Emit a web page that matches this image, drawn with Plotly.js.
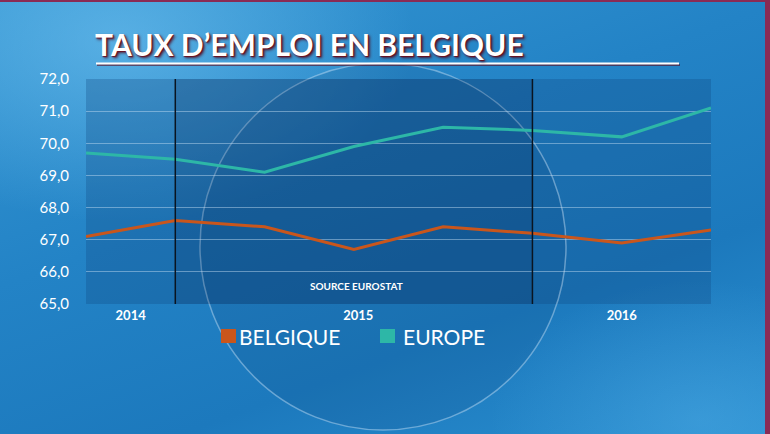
<!DOCTYPE html>
<html>
<head>
<meta charset="utf-8">
<script src="https://cdn.plot.ly/plotly-3.0.1.min.js"></script>
<style>
html,body{margin:0;padding:0;width:770px;height:434px;overflow:hidden;}
body{
 background:
  radial-gradient(ellipse 420px 260px at 120px 40px, rgba(120,200,245,0.55), rgba(120,200,245,0) 70%),
  radial-gradient(ellipse 300px 200px at 700px 420px, rgba(90,180,235,0.35), rgba(90,180,235,0) 70%),
  linear-gradient(160deg, #3596d2 0%, #2383c6 40%, #1c79bd 70%, #2a8fd0 100%);
 box-shadow: inset -5px 0 0 #8a2b55, inset 0 2px 0 #8a2b55;
}
#chart{width:770px;height:434px;}
</style>
</head>
<body>
<div id="chart"></div>
<script>
// Data
const quarterIndex = [0, 1, 2, 3, 4, 5, 6, 7];
const belgique = [67.1, 67.6, 67.4, 66.7, 67.4, 67.2, 66.9, 67.3];
const europe   = [69.7, 69.5, 69.1, 69.9, 70.5, 70.4, 70.2, 71.1];
const seriesNames = ['BELGIQUE', 'EUROPE'];
const yearLabels = ['2014', '2015', '2016'];
const yTicks = [65, 66, 67, 68, 69, 70, 71, 72];

// Layout constants
const yearTickPos = [0.5, 3.05, 6.0];
const colBel = '#c9561c';
const colEur = '#2db7a7';
const colors = [colBel, colEur];

const traces = [
  {x: quarterIndex, y: europe, mode: 'lines', name: seriesNames[1], line: {color: colEur, width: 3}, hoverinfo: 'skip'},
  {x: quarterIndex, y: belgique, mode: 'lines', name: seriesNames[0], line: {color: colBel, width: 3}, hoverinfo: 'skip'}
];

const px = v => (v - 86) / 625;
const py = v => (304 - v) / 225;

// custom legend (square swatch + label)
const legendSwatchX = [221, 380];
const legendTextX = [237, 401];
const legendY = 336;
const legendShapes = [];
const legendAnn = [];
seriesNames.forEach((n, i) => {
  legendShapes.push({type: 'rect', xref: 'paper', yref: 'paper',
    x0: px(legendSwatchX[i]), x1: px(legendSwatchX[i] + 15), y0: py(legendY + 7), y1: py(legendY - 7),
    line: {width: 0}, fillcolor: colors[i]});
  legendAnn.push({text: n, xref: 'paper', yref: 'paper', x: px(legendTextX[i]), y: py(legendY),
    xanchor: 'left', yanchor: 'middle', showarrow: false,
    font: {size: 21, color: '#ffffff', family: 'Lato, sans-serif'}});
});

const layout = {
  width: 770, height: 434,
  margin: {l: 86, r: 59, t: 79, b: 130},
  paper_bgcolor: 'rgba(0,0,0,0)',
  plot_bgcolor: 'rgba(15,70,125,0.28)',
  showlegend: false,
  font: {family: 'Lato, "Open Sans", sans-serif', color: '#ffffff'},
  title: {
    text: 'TAUX D\u2019EMPLOI EN BELGIQUE',
    x: px(95), xref: 'paper', xanchor: 'left',
    y: 1 - 45/434, yref: 'container', yanchor: 'middle',
    font: {family: 'Lato, sans-serif', size: 30, color: '#ffffff', weight: 700, shadow: '1px 1px 1px #6a1020, 2px 2px 3px rgba(80,0,20,0.8)'}
  },
  xaxis: {
    range: [0, 7], tickmode: 'array', tickvals: yearTickPos, ticktext: yearLabels,
    showgrid: false, zeroline: false, showline: false, ticks: '',
    tickfont: {size: 13, color: '#ffffff', weight: 700}, ticklabelstandoff: 2, fixedrange: true
  },
  yaxis: {
    range: [65, 72], tickmode: 'array', tickvals: yTicks,
    ticktext: yTicks.map(v => v.toFixed(1).replace('.', ',')),
    showgrid: true, gridcolor: 'rgba(200,225,245,0.45)', gridwidth: 1,
    zeroline: false, showline: false, ticks: '',
    tickfont: {size: 15, color: '#ffffff'}, ticklabelstandoff: 16, fixedrange: true
  },
  shapes: [
    {type: 'circle', xref: 'paper', yref: 'paper', x0: px(200), x1: px(566), y0: py(430), y1: py(63),
     line: {color: 'rgba(225,240,255,0.4)', width: 1.5}, fillcolor: 'rgba(10,50,100,0.12)', layer: 'below'},
    {type: 'rect', xref: 'x', yref: 'paper', x0: 1, x1: 5, y0: 0, y1: 1,
     line: {width: 0}, fillcolor: 'rgba(5,35,75,0.18)', layer: 'below'},
    {type: 'line', xref: 'x', yref: 'paper', x0: 1, x1: 1, y0: 0, y1: 1, line: {color: '#0a1420', width: 1.5}},
    {type: 'line', xref: 'x', yref: 'paper', x0: 5, x1: 5, y0: 0, y1: 1, line: {color: '#0a1420', width: 1.5}},
    {type: 'line', xref: 'paper', yref: 'paper', x0: px(97), x1: px(680), y0: py(65), y1: py(65),
     line: {color: 'rgba(90,10,30,0.6)', width: 2}},
    {type: 'line', xref: 'paper', yref: 'paper', x0: px(96), x1: px(679), y0: py(63.5), y1: py(63.5),
     line: {color: '#ffffff', width: 2.2}}
  ].concat(legendShapes),
  annotations: [
    {text: 'SOURCE EUROSTAT', xref: 'paper', yref: 'paper', x: px(356), y: py(294),
     showarrow: false, font: {size: 10, color: '#ffffff', weight: 700}}
  ].concat(legendAnn)
};

Plotly.newPlot('chart', traces, layout, {staticPlot: true, displayModeBar: false});
</script>
</body>
</html>
